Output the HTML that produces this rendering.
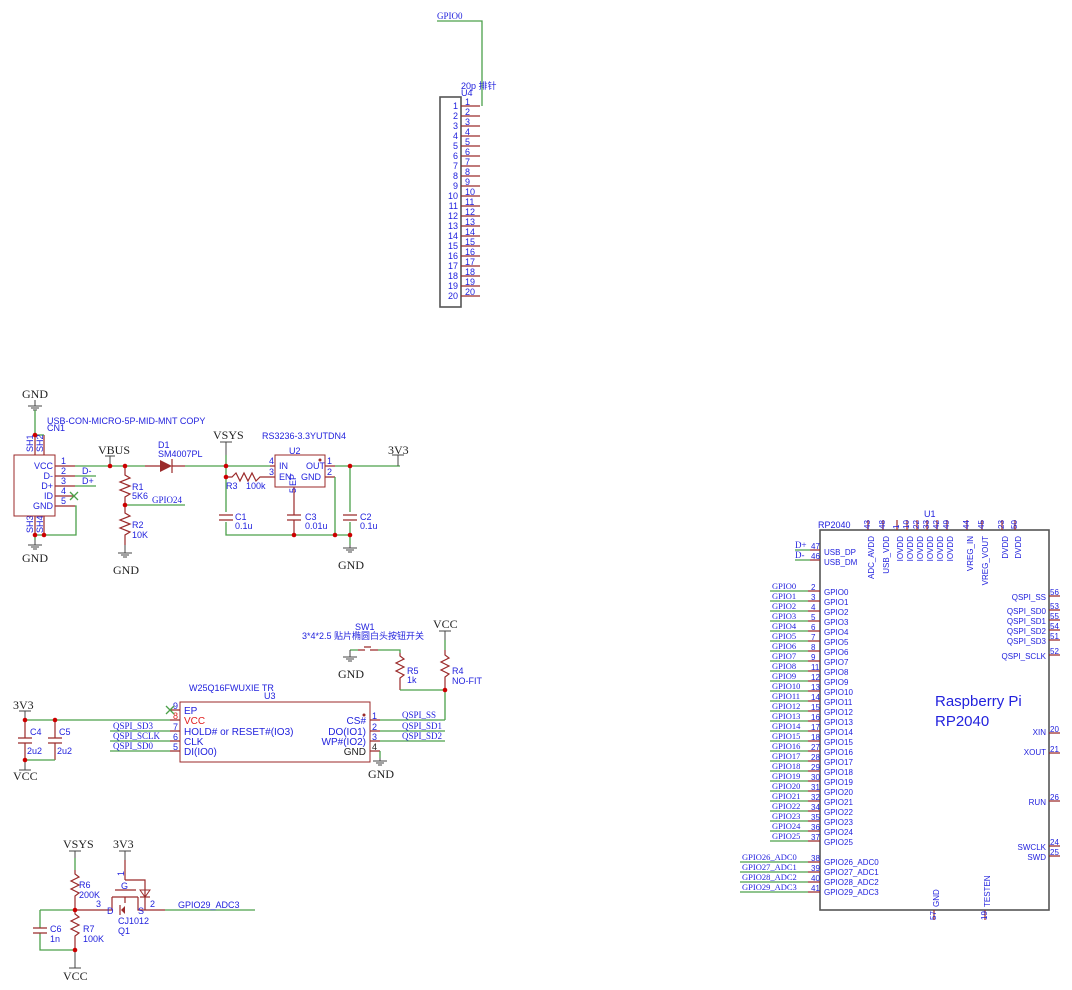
<!DOCTYPE html>
<html><head><meta charset="utf-8"><style>
html,body{margin:0;padding:0;background:#fff}
svg{display:block}
.w{stroke:#4ca04a;stroke-width:1.3;fill:none}
.p{stroke:#9b2a2a;stroke-width:1.2;fill:none}
.b{stroke:#555;stroke-width:1.6;fill:none}
.bk{stroke:#444;stroke-width:1;fill:none}
.t{font-family:"Liberation Sans","Noto Sans CJK SC",sans-serif;font-size:9px;fill:#2222dd}
.s{font-family:"Liberation Serif",serif;font-size:9px;fill:#2222dd}
.g{font-family:"Liberation Serif",serif;font-size:12px;fill:#222}
.j{fill:#c00}
</style></head><body>
<svg width="1072" height="990" viewBox="0 0 1072 990" xmlns="http://www.w3.org/2000/svg">
<!-- U4 header -->
<text class="s" x="437" y="19">GPIO0</text>
<path class="w" d="M437 21H482V106"/>
<text class="t" x="461" y="89">20p 排针</text>
<text class="t" x="461" y="96">U4</text>
<rect x="440" y="97" width="21" height="210" class="b"/>
<g class="p">
<path d="M461 106H480M461 116H480M461 126H480M461 136H480M461 146H480M461 156H480M461 166H480M461 176H480M461 186H480M461 196H480M461 206H480M461 216H480M461 226H480M461 236H480M461 246H480M461 256H480M461 266H480M461 276H480M461 286H480M461 296H480"/>
</g>
<g class="t" text-anchor="end">
<text x="458" y="109">1</text><text x="458" y="119">2</text><text x="458" y="129">3</text><text x="458" y="139">4</text><text x="458" y="149">5</text><text x="458" y="159">6</text><text x="458" y="169">7</text><text x="458" y="179">8</text><text x="458" y="189">9</text><text x="458" y="199">10</text><text x="458" y="209">11</text><text x="458" y="219">12</text><text x="458" y="229">13</text><text x="458" y="239">14</text><text x="458" y="249">15</text><text x="458" y="259">16</text><text x="458" y="269">17</text><text x="458" y="279">18</text><text x="458" y="289">19</text><text x="458" y="299">20</text>
</g>
<g class="t">
<text x="465" y="105">1</text><text x="465" y="115">2</text><text x="465" y="125">3</text><text x="465" y="135">4</text><text x="465" y="145">5</text><text x="465" y="155">6</text><text x="465" y="165">7</text><text x="465" y="175">8</text><text x="465" y="185">9</text><text x="465" y="195">10</text><text x="465" y="205">11</text><text x="465" y="215">12</text><text x="465" y="225">13</text><text x="465" y="235">14</text><text x="465" y="245">15</text><text x="465" y="255">16</text><text x="465" y="265">17</text><text x="465" y="275">18</text><text x="465" y="285">19</text><text x="465" y="295">20</text>
</g>

<!-- USB / power -->
<text class="g" x="22" y="398">GND</text>
<path class="bk" d="M35 400V406M28 406H42M31 408H39M33 410H37"/>
<path class="w" d="M35 410V435"/>
<text class="t" x="47" y="424">USB-CON-MICRO-5P-MID-MNT COPY</text>
<text class="t" x="47" y="431">CN1</text>
<path class="p" d="M35 435V455M44 435V455M35 516V535M44 516V535"/>
<path class="w" d="M35 435H44"/>
<text class="t" transform="translate(33,452) rotate(-90)">SH1</text>
<text class="t" transform="translate(43,452) rotate(-90)">SH2</text>
<text class="t" transform="translate(33,533) rotate(-90)">SH3</text>
<text class="t" transform="translate(43,533) rotate(-90)">SH4</text>
<rect x="14" y="455" width="41" height="61" class="b" style="stroke:#9b2a2a;stroke-width:1"/>
<g class="t" text-anchor="end"><text x="53" y="469">VCC</text><text x="53" y="479">D-</text><text x="53" y="489">D+</text><text x="53" y="499">ID</text><text x="53" y="509">GND</text></g>
<path class="p" d="M55 466H75M55 476H75M55 486H75M55 496H75M55 506H75"/>
<g class="t"><text x="61" y="464">1</text><text x="61" y="474">2</text><text x="61" y="484">3</text><text x="61" y="494">4</text><text x="61" y="504">5</text><text x="82" y="474">D-</text><text x="82" y="484">D+</text></g>
<path class="w" d="M75 476H96M75 486H96M70 492L78 500M78 492L70 500M75 506H76V535H35"/>
<path class="w" d="M35 535V540"/>
<path class="bk" d="M35 540V545M28 545H42M31 547H39M33 549H37"/>
<text class="g" x="22" y="562">GND</text>
<path class="w" d="M75 466H145M185 466H270"/>
<path class="bk" d="M110 466V456M105 456H115"/>
<text class="g" x="98" y="454">VBUS</text>
<path class="p" d="M145 466H160M172 466H185"/>
<path d="M160 460L172 466L160 472Z" fill="#9b2a2a"/><path class="p" d="M172 459V473"/>
<text class="t" x="158" y="448">D1</text><text class="t" x="158" y="457">SM4007PL</text>
<path class="p" d="M125 466V475L130 478L120 482L130 486L120 490L130 494L125 497V505V513L130 516L120 520L130 524L120 528L130 532L125 535V545"/>
<text class="t" x="132" y="490">R1</text><text class="t" x="132" y="499">5K6</text>
<text class="t" x="132" y="528">R2</text><text class="t" x="132" y="538">10K</text>
<path class="w" d="M125 505H185"/><text class="s" x="152" y="503">GPIO24</text>
<path class="bk" d="M125 545V553M118 553H132M121 555H129M123 557H127"/>
<text class="g" x="113" y="574">GND</text>
<text class="g" x="213" y="439">VSYS</text>
<path class="bk" d="M220 442H232M226 442V455"/><path class="w" d="M226 455V512M226 522V535H350"/>
<path class="p" d="M226 477H232L236 473L240 481L244 473L248 481L252 473L256 481L260 477H270"/>
<text class="t" x="226" y="489">R3</text><text class="t" x="246" y="489">100k</text>
<path class="p" d="M219 515H233M219 520H233M287 515H301M287 520H301M343 515H357M343 520H357"/>
<path class="p" d="M294 487V515M294 520V535"/>
<text class="t" x="235" y="520">C1</text><text class="t" x="235" y="529">0.1u</text>
<text class="t" x="305" y="520">C3</text><text class="t" x="305" y="529">0.01u</text>
<text class="t" x="360" y="520">C2</text><text class="t" x="360" y="529">0.1u</text>
<text class="t" x="262" y="439">RS3236-3.3YUTDN4</text>
<text class="t" x="289" y="454">U2</text>
<rect x="275" y="455" width="50" height="32" class="p" style="stroke-width:1"/>
<circle cx="320" cy="460" r="1.5" fill="#9b2a2a"/>
<g class="t"><text x="279" y="469">IN</text><text x="279" y="480">EN</text><text x="306" y="469">OUT</text><text x="301" y="480">GND</text><text x="269" y="464">4</text><text x="269" y="475">3</text><text x="327" y="464">1</text><text x="327" y="475">2</text></g>
<text class="t" transform="translate(296,486) rotate(-90)">EP</text>
<text class="t" transform="translate(296,493) rotate(-90)">5</text>
<path class="p" d="M325 466H335M325 477H335M270 466H275M270 477H275"/>
<path class="w" d="M335 466H400M335 477V535M350 466V512M350 522V535M350 535V545"/>
<path class="bk" d="M392 455H404M398 455V466"/><text class="g" x="388" y="454">3V3</text>
<path class="bk" d="M350 545V548M343 548H357M346 550H354M348 552H352"/>
<text class="g" x="338" y="569">GND</text>
<g class="j"><circle cx="35" cy="435" r="2.3"/><circle cx="35" cy="535" r="2.3"/><circle cx="44" cy="535" r="2.3"/><circle cx="110" cy="466" r="2.3"/><circle cx="125" cy="466" r="2.3"/><circle cx="125" cy="505" r="2.3"/><circle cx="226" cy="466" r="2.3"/><circle cx="226" cy="477" r="2.3"/><circle cx="294" cy="535" r="2.3"/><circle cx="335" cy="535" r="2.3"/><circle cx="350" cy="535" r="2.3"/><circle cx="350" cy="466" r="2.3"/></g>

<!-- Flash -->
<text class="t" x="355" y="630">SW1</text>
<text class="t" x="302" y="639">3*4*2.5 贴片椭圆白头按钮开关</text>
<path class="p" d="M358 650H365M370 650H378M364 647H371"/>
<path class="w" d="M350 650H358M378 650H400V653"/>
<path class="bk" d="M350 650V657M343 657H357M346 659H354M348 661H352"/>
<text class="g" x="338" y="678">GND</text>
<path class="p" d="M400 653V656L404 659L396 663L404 667L396 671L404 675L400 678V690"/>
<text class="t" x="407" y="674">R5</text><text class="t" x="407" y="683">1k</text>
<text class="g" x="433" y="628">VCC</text>
<path class="bk" d="M439 631H451M445 631V640"/>
<path class="p" d="M445 650V655L449 658L441 662L449 666L441 670L449 674L445 677V690"/>
<path class="w" d="M445 640V650M400 690H445V720M380 720H445"/>
<text class="t" x="452" y="674">R4</text><text class="t" x="452" y="684">NO-FIT</text>
<text class="t" x="189" y="691">W25Q16FWUXIE TR</text><text class="t" x="264" y="699">U3</text>
<rect x="180" y="702" width="190" height="60" class="p" style="stroke-width:1"/>
<circle cx="364" cy="715" r="1.5" fill="#9b2a2a"/>
<path class="p" d="M170 710H180M170 720H180M170 731H180M170 741H180M170 751H180M370 720H380M370 731H380M370 741H380M370 751H380"/>
<g class="t" style="font-size:10px"><text x="184" y="714">EP</text><text x="184" y="724" style="fill:#e02020">VCC</text><text x="184" y="735">HOLD# or RESET#(IO3)</text><text x="184" y="745">CLK</text><text x="184" y="755">DI(IO0)</text></g>
<g class="t" style="font-size:10px" text-anchor="end"><text x="366" y="724">CS#</text><text x="366" y="735">DO(IO1)</text><text x="366" y="745">WP#(IO2)</text><text x="366" y="755" style="fill:#222">GND</text></g>
<g class="t"><text x="173" y="709">9</text><text x="173" y="719" style="fill:#e02020">8</text><text x="173" y="730">7</text><text x="173" y="740">6</text><text x="173" y="750">5</text><text x="372" y="719">1</text><text x="372" y="730">2</text><text x="372" y="740">3</text><text x="372" y="750" style="fill:#222">4</text></g>
<path class="w" d="M166 706L174 714M174 706L166 714"/>
<path class="w" d="M25 720H170M110 731H170M110 741H170M110 751H170M380 731H445M380 741H445M380 751V758"/>
<g class="s"><text x="113" y="729">QSPI_SD3</text><text x="113" y="739">QSPI_SCLK</text><text x="113" y="749">QSPI_SD0</text><text x="402" y="718">QSPI_SS</text><text x="402" y="729">QSPI_SD1</text><text x="402" y="739">QSPI_SD2</text></g>
<path class="bk" d="M380 758V761M373 761H387M376 763H384M378 765H382"/>
<text class="g" x="368" y="778">GND</text>
<text class="g" x="13" y="709">3V3</text>
<path class="bk" d="M19 711H31M25 711V720M19 770H31M25 760V770"/>
<path class="p" d="M25 720V738M25 743V760M18 738H32M18 743H32M55 720V738M55 743V760M48 738H62M48 743H62"/>
<path class="w" d="M25 760H55"/>
<text class="t" x="30" y="735">C4</text><text class="t" x="27" y="754">2u2</text><text class="t" x="59" y="735">C5</text><text class="t" x="57" y="754">2u2</text>
<text class="g" x="13" y="780">VCC</text>
<g class="j"><circle cx="25" cy="720" r="2.3"/><circle cx="55" cy="720" r="2.3"/><circle cx="25" cy="760" r="2.3"/><circle cx="445" cy="690" r="2.3"/></g>

<!-- Q1 -->
<text class="g" x="63" y="848">VSYS</text>
<path class="bk" d="M69 851H81M75 851V858"/>
<path class="w" d="M75 858V870"/>
<path class="p" d="M75 870V874L79 877L71 881L79 885L71 889L79 893L75 896V910V914L79 917L71 921L79 925L71 929L79 933L75 936V950"/>
<text class="t" x="79" y="888">R6</text><text class="t" x="79" y="898">200K</text>
<text class="t" x="83" y="932">R7</text><text class="t" x="83" y="942">100K</text>
<path class="w" d="M40 910H75M40 910V928M40 933V950H75"/>
<path class="p" d="M33 928H47M33 933H47M75 910H108"/>
<text class="t" x="50" y="932">C6</text><text class="t" x="50" y="942">1n</text>
<path class="bk" d="M75 950V968M69 968H81"/><text class="g" x="63" y="980">VCC</text>
<text class="g" x="113" y="848">3V3</text>
<path class="bk" d="M119 851H131M125 851V860"/>
<path class="p" d="M125 860V880M115 890H136M125 880H145V910M112 897V910H108M138 897V910H165M116 897H135M125 897V903M112 897H118M132 897H138"/>
<path d="M140 890L145 897L150 890Z" fill="none" stroke="#9b2a2a"/><path class="p" d="M140 897H150"/>
<path d="M125 906L121 910L125 914Z" fill="#9b2a2a"/><path class="p" d="M120 905V915"/>
<g class="t"><text x="118" y="876" transform="rotate(-90,121,873)">1</text><text x="121" y="889">G</text><text x="96" y="907">3</text><text x="107" y="914">D</text><text x="138" y="914">S</text><text x="150" y="907">2</text><text x="118" y="924">CJ1012</text><text x="118" y="934">Q1</text></g>
<path class="w" d="M165 910H255"/><text class="t" x="178" y="908">GPIO29_ADC3</text>
<g class="j"><circle cx="75" cy="910" r="2.3"/><circle cx="75" cy="950" r="2.3"/></g>

<!-- U1 RP2040 -->
<text class="t" x="924" y="517">U1</text><text class="t" x="818" y="528">RP2040</text>
<rect x="820" y="530" width="229" height="380" class="b"/>
<path class="p" d="M868 520V530M883 520V530M897 520V530M907 520V530M917 520V530M927 520V530M937 520V530M947 520V530M967 520V530M982 520V530M1002 520V530M1015 520V530"/>
<g class="t" style="font-size:8px"><text transform="translate(870,529) rotate(-90)">43</text><text transform="translate(885,529) rotate(-90)">48</text><text transform="translate(899,529) rotate(-90)">1</text><text transform="translate(909,529) rotate(-90)">10</text><text transform="translate(919,529) rotate(-90)">22</text><text transform="translate(929,529) rotate(-90)">33</text><text transform="translate(939,529) rotate(-90)">42</text><text transform="translate(949,529) rotate(-90)">49</text><text transform="translate(969,529) rotate(-90)">44</text><text transform="translate(984,529) rotate(-90)">45</text><text transform="translate(1004,529) rotate(-90)">23</text><text transform="translate(1017,529) rotate(-90)">50</text></g>
<g class="t" style="font-size:8px" text-anchor="end"><text transform="translate(874,536) rotate(-90)">ADC_AVDD</text><text transform="translate(889,536) rotate(-90)">USB_VDD</text><text transform="translate(903,536) rotate(-90)">IOVDD</text><text transform="translate(913,536) rotate(-90)">IOVDD</text><text transform="translate(923,536) rotate(-90)">IOVDD</text><text transform="translate(933,536) rotate(-90)">IOVDD</text><text transform="translate(943,536) rotate(-90)">IOVDD</text><text transform="translate(953,536) rotate(-90)">IOVDD</text><text transform="translate(973,536) rotate(-90)">VREG_IN</text><text transform="translate(988,536) rotate(-90)">VREG_VOUT</text><text transform="translate(1008,536) rotate(-90)">DVDD</text><text transform="translate(1021,536) rotate(-90)">DVDD</text></g>
<path class="w" d="M795 550H810M795 560H810"/><path class="p" d="M810 550H820M810 560H820"/>
<g class="s"><text x="795" y="548">D+</text><text x="795" y="558">D-</text></g>
<g class="t" style="font-size:8px"><text x="811" y="549">47</text><text x="811" y="559">46</text><text x="824" y="555">USB_DP</text><text x="824" y="565">USB_DM</text></g>
<path class="w" d="M770 591H808M770 601H808M770 611H808M770 621H808M770 631H808M770 641H808M770 651H808M770 661H808M770 671H808M770 681H808M770 691H808M770 701H808M770 711H808M770 721H808M770 731H808M770 741H808M770 751H808M770 761H808M770 771H808M770 781H808M770 791H808M770 801H808M770 811H808M770 821H808M770 831H808M770 841H808M740 862H808M740 872H808M740 882H808M740 892H808"/>
<path class="p" d="M808 591H820M808 601H820M808 611H820M808 621H820M808 631H820M808 641H820M808 651H820M808 661H820M808 671H820M808 681H820M808 691H820M808 701H820M808 711H820M808 721H820M808 731H820M808 741H820M808 751H820M808 761H820M808 771H820M808 781H820M808 791H820M808 801H820M808 811H820M808 821H820M808 831H820M808 841H820M808 862H820M808 872H820M808 882H820M808 892H820"/>
<g class="s" style="font-size:8.5px"><text x="772" y="589">GPIO0</text><text x="772" y="599">GPIO1</text><text x="772" y="609">GPIO2</text><text x="772" y="619">GPIO3</text><text x="772" y="629">GPIO4</text><text x="772" y="639">GPIO5</text><text x="772" y="649">GPIO6</text><text x="772" y="659">GPIO7</text><text x="772" y="669">GPIO8</text><text x="772" y="679">GPIO9</text><text x="772" y="689">GPIO10</text><text x="772" y="699">GPIO11</text><text x="772" y="709">GPIO12</text><text x="772" y="719">GPIO13</text><text x="772" y="729">GPIO14</text><text x="772" y="739">GPIO15</text><text x="772" y="749">GPIO16</text><text x="772" y="759">GPIO17</text><text x="772" y="769">GPIO18</text><text x="772" y="779">GPIO19</text><text x="772" y="789">GPIO20</text><text x="772" y="799">GPIO21</text><text x="772" y="809">GPIO22</text><text x="772" y="819">GPIO23</text><text x="772" y="829">GPIO24</text><text x="772" y="839">GPIO25</text><text x="742" y="860">GPIO26_ADC0</text><text x="742" y="870">GPIO27_ADC1</text><text x="742" y="880">GPIO28_ADC2</text><text x="742" y="890">GPIO29_ADC3</text></g>
<g class="t" style="font-size:8px"><text x="811" y="590">2</text><text x="811" y="600">3</text><text x="811" y="610">4</text><text x="811" y="620">5</text><text x="811" y="630">6</text><text x="811" y="640">7</text><text x="811" y="650">8</text><text x="811" y="660">9</text><text x="811" y="670">11</text><text x="811" y="680">12</text><text x="811" y="690">13</text><text x="811" y="700">14</text><text x="811" y="710">15</text><text x="811" y="720">16</text><text x="811" y="730">17</text><text x="811" y="740">18</text><text x="811" y="750">27</text><text x="811" y="760">28</text><text x="811" y="770">29</text><text x="811" y="780">30</text><text x="811" y="790">31</text><text x="811" y="800">32</text><text x="811" y="810">34</text><text x="811" y="820">35</text><text x="811" y="830">36</text><text x="811" y="840">37</text><text x="811" y="861">38</text><text x="811" y="871">39</text><text x="811" y="881">40</text><text x="811" y="891">41</text></g>
<g class="t" style="font-size:8px"><text x="824" y="595">GPIO0</text><text x="824" y="605">GPIO1</text><text x="824" y="615">GPIO2</text><text x="824" y="625">GPIO3</text><text x="824" y="635">GPIO4</text><text x="824" y="645">GPIO5</text><text x="824" y="655">GPIO6</text><text x="824" y="665">GPIO7</text><text x="824" y="675">GPIO8</text><text x="824" y="685">GPIO9</text><text x="824" y="695">GPIO10</text><text x="824" y="705">GPIO11</text><text x="824" y="715">GPIO12</text><text x="824" y="725">GPIO13</text><text x="824" y="735">GPIO14</text><text x="824" y="745">GPIO15</text><text x="824" y="755">GPIO16</text><text x="824" y="765">GPIO17</text><text x="824" y="775">GPIO18</text><text x="824" y="785">GPIO19</text><text x="824" y="795">GPIO20</text><text x="824" y="805">GPIO21</text><text x="824" y="815">GPIO22</text><text x="824" y="825">GPIO23</text><text x="824" y="835">GPIO24</text><text x="824" y="845">GPIO25</text><text x="824" y="865">GPIO26_ADC0</text><text x="824" y="875">GPIO27_ADC1</text><text x="824" y="885">GPIO28_ADC2</text><text x="824" y="895">GPIO29_ADC3</text></g>
<path class="p" d="M1049 596H1060M1049 610H1060M1049 620H1060M1049 630H1060M1049 640H1060M1049 655H1060M1049 733H1060M1049 753H1060M1049 801H1060M1049 846H1060M1049 856H1060"/>
<g class="t" style="font-size:8px"><text x="1050" y="595">56</text><text x="1050" y="609">53</text><text x="1050" y="619">55</text><text x="1050" y="629">54</text><text x="1050" y="639">51</text><text x="1050" y="654">52</text><text x="1050" y="732">20</text><text x="1050" y="752">21</text><text x="1050" y="800">26</text><text x="1050" y="845">24</text><text x="1050" y="855">25</text></g>
<g class="t" style="font-size:8px" text-anchor="end"><text x="1046" y="600">QSPI_SS</text><text x="1046" y="614">QSPI_SD0</text><text x="1046" y="624">QSPI_SD1</text><text x="1046" y="634">QSPI_SD2</text><text x="1046" y="644">QSPI_SD3</text><text x="1046" y="659">QSPI_SCLK</text><text x="1046" y="735">XIN</text><text x="1046" y="755">XOUT</text><text x="1046" y="805">RUN</text><text x="1046" y="850">SWCLK</text><text x="1046" y="860">SWD</text></g>
<text class="t" x="935" y="706" style="font-size:15px">Raspberry Pi</text>
<text class="t" x="935" y="726" style="font-size:15px">RP2040</text>
<path class="p" d="M934 910V920M985 910V920"/>
<g class="t" style="font-size:8px"><text transform="translate(939,907) rotate(-90)">GND</text><text transform="translate(990,907) rotate(-90)">TESTEN</text><text transform="translate(936,920) rotate(-90)">57</text><text transform="translate(987,920) rotate(-90)">19</text></g>
</svg>
</body></html>
